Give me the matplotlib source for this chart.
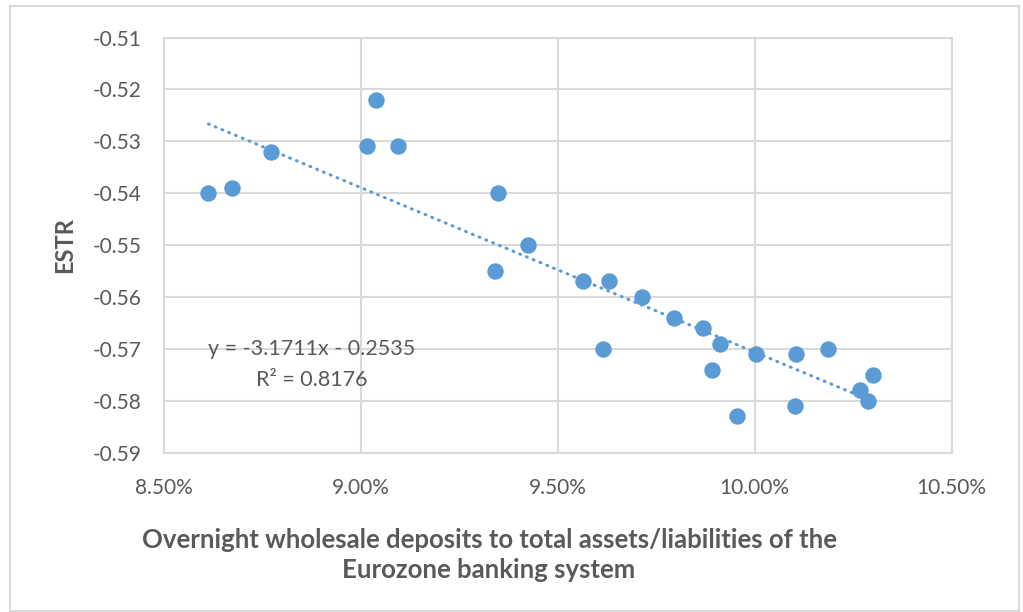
import numpy as np
import matplotlib.pyplot as plt
from matplotlib.ticker import PercentFormatter, FormatStrFormatter
from matplotlib.patches import Rectangle

plt.rcParams['font.family'] = ['Lato', 'DejaVu Sans']
plt.rcParams['axes.unicode_minus'] = False

# overnight wholesale deposits / total assets (as fraction) and ESTR
deposit_ratio = [0.08614, 0.08675, 0.08773, 0.09016, 0.09039, 0.09094, 0.09348,
                 0.09341, 0.09426, 0.09565, 0.09631, 0.09615, 0.09715, 0.09796,
                 0.09868, 0.09891, 0.09911, 0.09955, 0.10003, 0.10105, 0.10103,
                 0.10187, 0.10268, 0.10287, 0.10300]
estr = [-0.540, -0.539, -0.532, -0.531, -0.522, -0.531, -0.540, -0.555, -0.550,
        -0.557, -0.557, -0.570, -0.560, -0.564, -0.566, -0.574, -0.569, -0.583,
        -0.571, -0.571, -0.581, -0.570, -0.578, -0.580, -0.575]

# trendline as printed on the chart
slope = -3.1711
intercept = -0.2535
r_squared = 0.8176

blue = '#5B9BD5'
grey_txt = '#595959'
grid_col = '#D9D9D9'

fig = plt.figure(figsize=(10.23, 6.12), dpi=100)
ax = fig.add_axes([163.5/1023, 1 - 452.7/612, (951.7 - 163.5)/1023, (452.7 - 37.5)/612])

ax.scatter(deposit_ratio, estr, s=140, color=blue, zorder=3, linewidths=0)

xs = np.array([min(deposit_ratio), max(deposit_ratio)])
ax.plot(xs, slope*xs + intercept, color=blue, lw=2.2, linestyle=(0, (0.3, 2.1)),
        dash_capstyle='round', zorder=2)

ax.set_xlim(0.085, 0.105)
ax.set_ylim(-0.59, -0.51)
ax.set_xticks(np.arange(0.085, 0.1051, 0.005))
ax.set_yticks(np.arange(-0.59, -0.5099, 0.01))
ax.xaxis.set_major_formatter(PercentFormatter(xmax=1, decimals=2))
ax.yaxis.set_major_formatter(FormatStrFormatter('%.2f'))

ax.grid(True, color=grid_col, lw=1.5)
ax.set_axisbelow(True)
for s in ax.spines.values():
    s.set_color(grid_col)
    s.set_linewidth(1.5)
ax.tick_params(length=0, labelsize=15, labelcolor=grey_txt)
ax.tick_params(axis='x', pad=18)
ax.tick_params(axis='y', pad=16)

ax.text(0.08877, -0.573, 'y = -3.1711x - 0.2535\nR² = 0.8176', ha='center', va='center',
        multialignment='center', fontsize=15.5, color=grey_txt, linespacing=1.7)

fig.text(65/1023, 1 - 245/612, 'ESTR', rotation=90, ha='center', va='center',
         fontsize=17, fontweight='bold', color=grey_txt)
fig.text(489/1023, 1 - 554.5/612,
         'Overnight wholesale deposits to total assets/liabilities of the\nEurozone banking system',
         ha='center', va='center', multialignment='center', fontsize=18.5,
         fontweight='bold', color=grey_txt, linespacing=1.3)

fig.add_artist(Rectangle((10/1023, 1 - 611/612), 1009/1023, 605/612, transform=fig.transFigure,
                         fill=False, ec=grid_col, lw=1.5))

plt.savefig('out.png', dpi=100)
